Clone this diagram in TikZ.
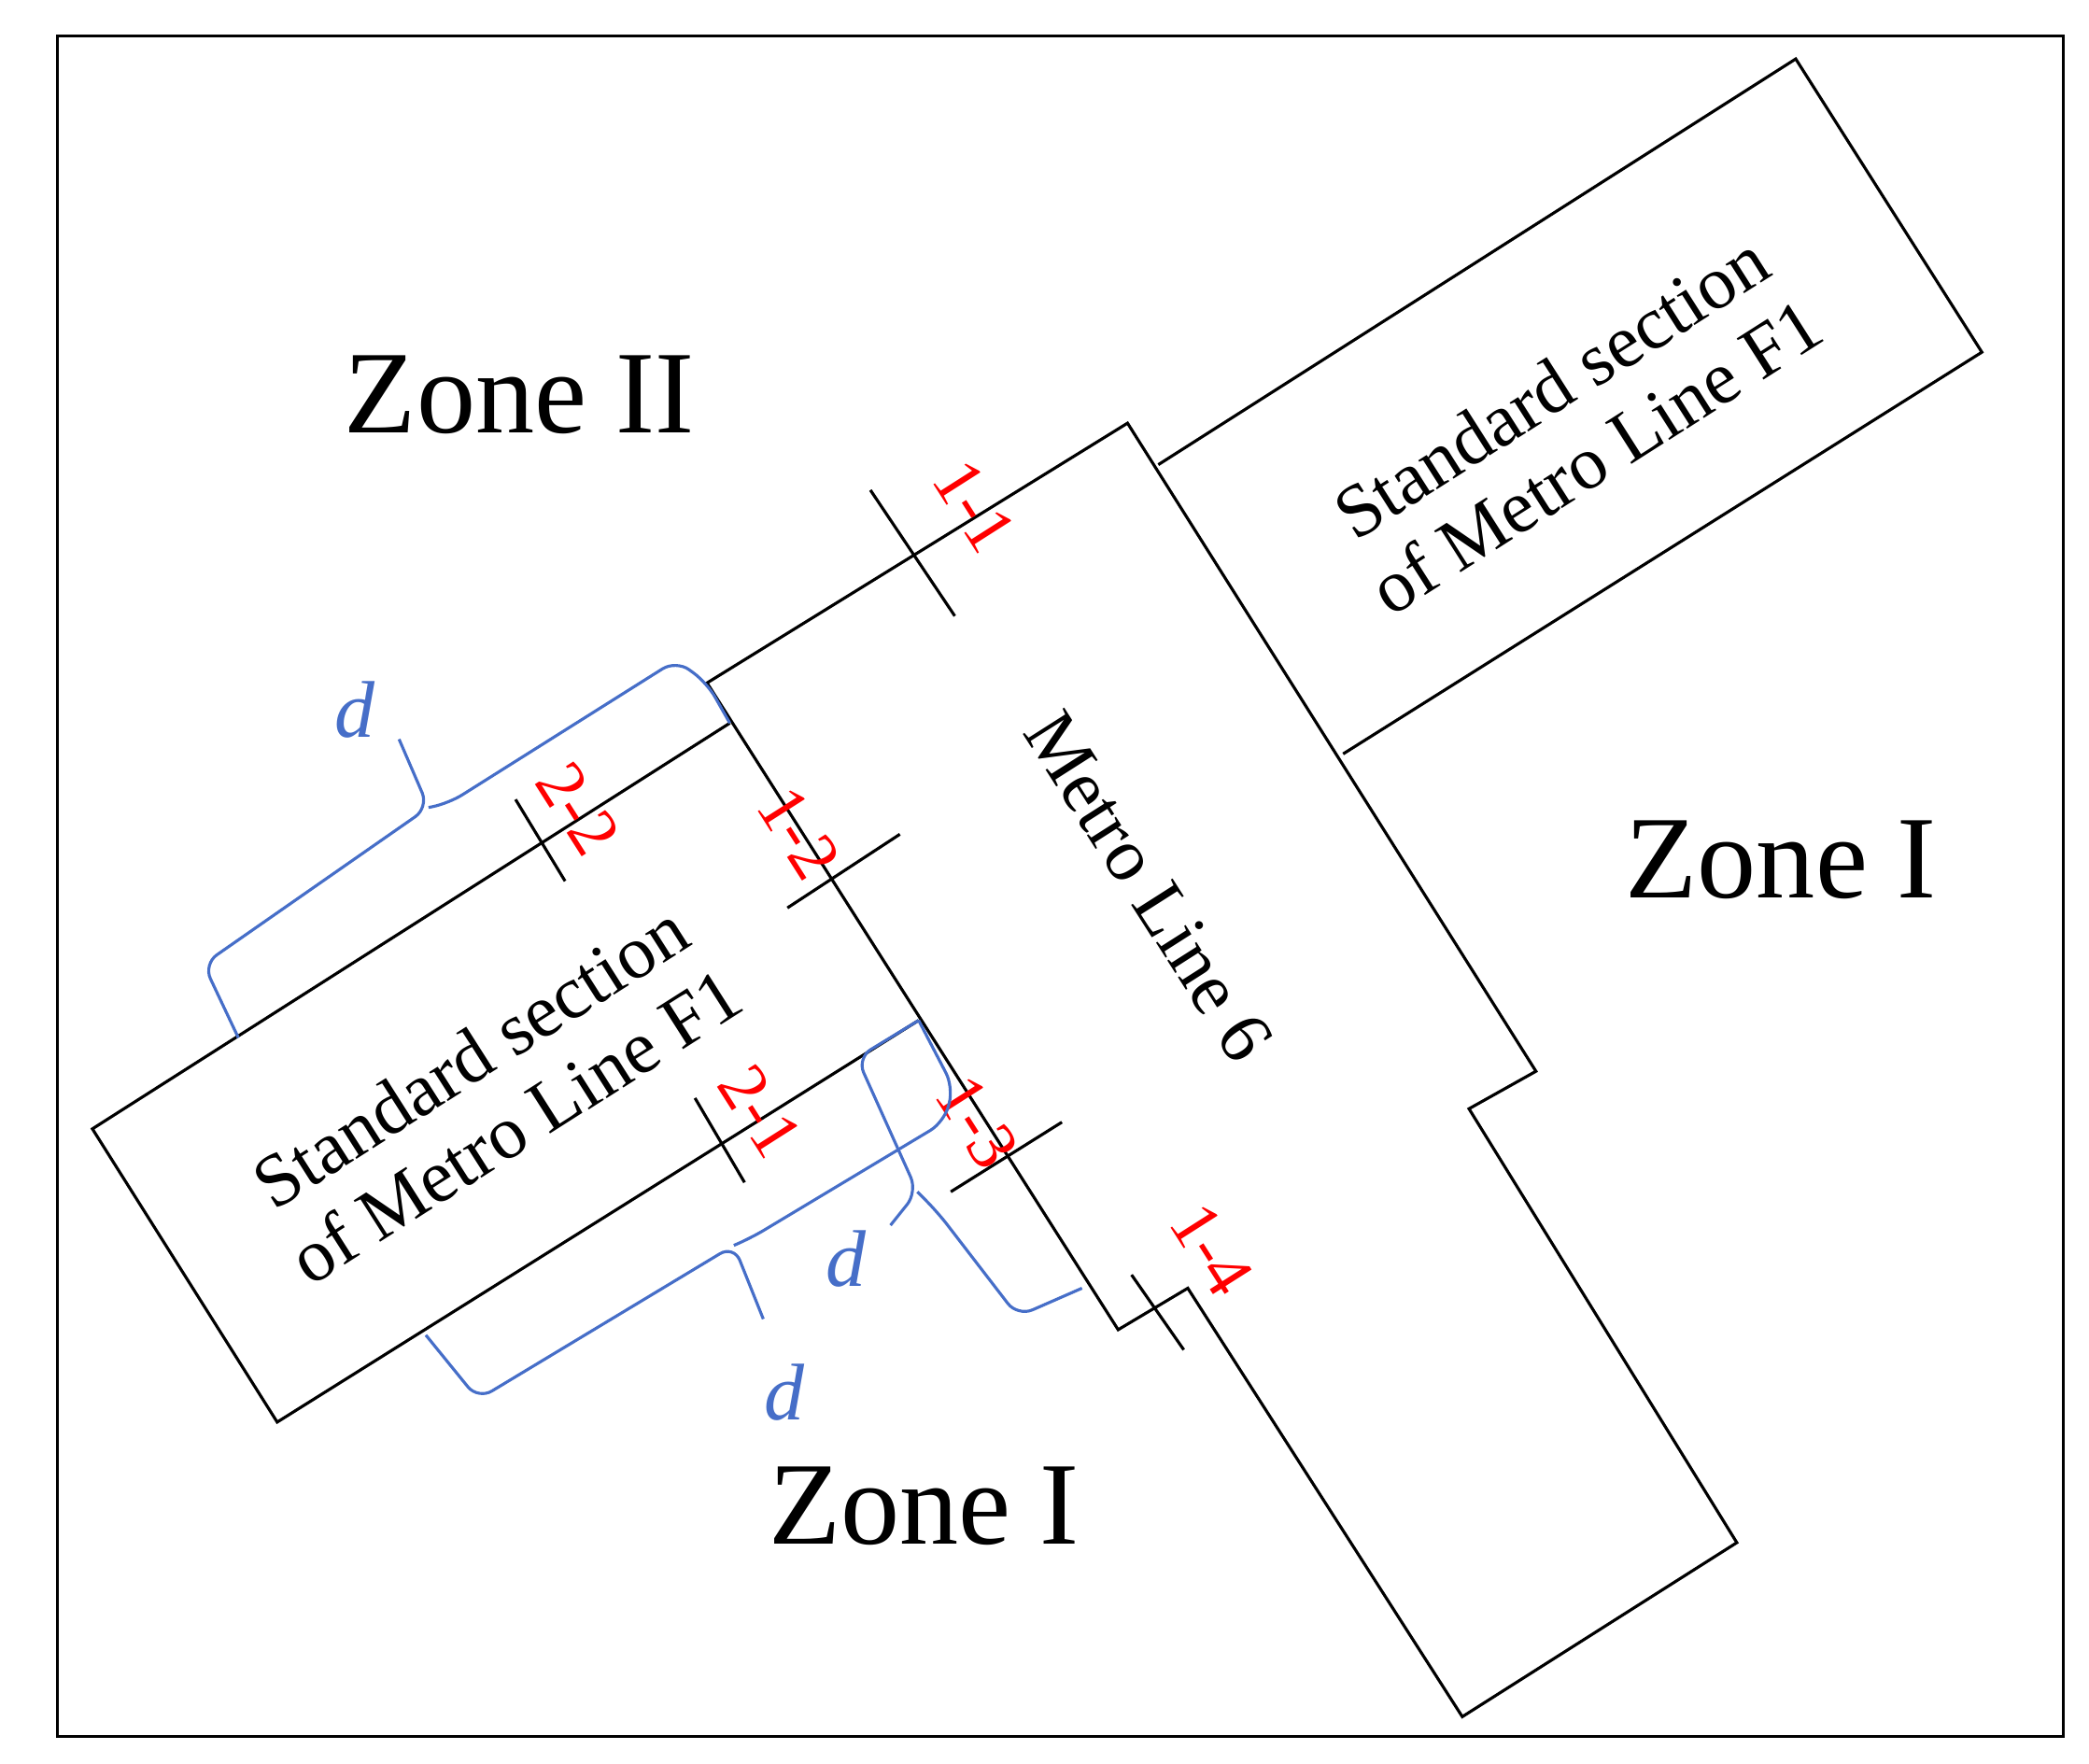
\documentclass[tikz,border=0pt]{standalone}
\usepackage{fontspec}
\setmainfont{Liberation Serif}
\begin{document}
\begin{tikzpicture}[x=0.5pt,y=-0.5pt,
  edge/.style={line width=1.1pt,line join=miter},
  cut/.style={line width=1.1pt},
  lab/.style={text=red,font=\fontsize{26}{28}\selectfont,rotate=-57.5,inner sep=0pt},
  brace/.style={draw={rgb,255:red,70;green,110;blue,200},line width=1.1pt,rounded corners=6pt},
  dl/.style={text={rgb,255:red,70;green,110;blue,200},font=\itshape\fontsize{30}{32}\selectfont},
  zone/.style={font=\fontsize{44}{48}\selectfont},
  sec/.style={font=\fontsize{28}{31}\selectfont,align=center,rotate=32.5,inner sep=0pt}]
\useasboundingbox (0,0) rectangle (1560,1317);
\draw[line width=1pt] (43,27) rectangle (1541,1297);
\draw[edge] (528,510)--(842,316)--(1147,800)--(1097,828)--(1297,1152)--(1092,1282)--(887,962)--(835,993)--cycle;
\draw[edge] (865,347)--(1341,44)--(1480,263)--(1003,563);
\draw[edge] (545,540)--(69,843)--(207,1062)--(686,762);
\draw[cut] (650,366)--(713,460); \node[lab] at (728,378) {1-1};
\draw[cut] (385,597)--(422,658); \node[lab] at (432,604) {2-2};
\draw[cut] (588,678)--(672,623); \node[lab] at (597,622) {1-2};
\draw[cut] (519,820)--(556,883); \node[lab] at (568,830) {2-1};
\draw[cut] (710,890)--(793,838); \node[lab] at (730,838) {1-3};
\draw[cut] (845,952)--(884,1008); \node[lab] at (905,933) {1-4};
\node[rotate=-57.5,font=\fontsize{28}{31}\selectfont,inner sep=0pt] at (858,662) {Metro Line 6};
\node[sec] at (1175,315) {Standard section\\of Metro Line F1};
\node[sec] at (368,815) {Standard section\\of Metro Line F1};
\node[zone] at (388,295) {Zone II};
\node[zone] at (1330,642) {Zone I};
\node[zone] at (690,1125) {Zone I};
\draw[brace] (178,775)--(152,720)--(320,603)--(298,552);
\draw[brace] (320,603)--(335,600)--(505,493)--(528,510)--(545,540);
\node[dl] at (265,530) {d};
\draw[brace] (318,997)--(357,1045)--(548,930)--(570,985);
\draw[brace] (548,930)--(560,925)--(705,838)--(712,812)--(686,762);
\node[dl] at (586,1040) {d};
\draw[brace] (686,762)--(640,790)--(685,890)--(665,915);
\draw[brace] (685,890)--(700,905)--(760,983)--(808,962);
\node[dl] at (632,940) {d};
\end{tikzpicture}
\end{document}
